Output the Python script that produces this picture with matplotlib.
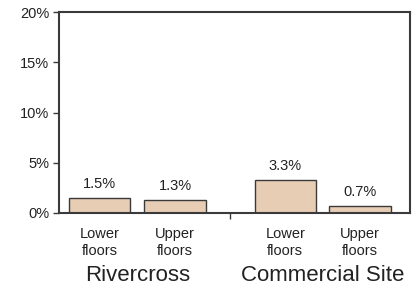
import matplotlib
matplotlib.use("Agg")
import matplotlib.pyplot as plt

categories = ["Lower\nfloors", "Upper\nfloors", "Lower\nfloors", "Upper\nfloors"]
groups = ["Rivercross", "Commercial Site"]
values = [1.5, 1.3, 3.3, 0.7]
value_labels = ["1.5%", "1.3%", "3.3%", "0.7%"]
yticks = [0, 5, 10, 15, 20]
ytick_labels = ["0%", "5%", "10%", "15%", "20%"]

plt.rcParams['font.family'] = ['Liberation Sans', 'DejaVu Sans']

fig = plt.figure(figsize=(4.14, 2.87), dpi=100)
ax = fig.add_axes([0.1425, 0.258, 0.8475, 0.700])

xpos = [0, 1, 2.46, 3.45]
ax.bar(xpos, values, width=0.81, color="#E8CDB5", edgecolor="#3a3a3a", linewidth=1.0)
for x, v, lab in zip(xpos, values, value_labels):
    ax.text(x, v + 0.7, lab, ha="center", va="bottom", fontsize=10.5, color="#222222")

ax.set_xlim(-0.536, 4.11)
ax.set_ylim(0, 20)
ax.set_yticks(yticks)
ax.set_yticklabels(ytick_labels, fontsize=10.5, color="#222222")
ax.set_xticks([1.73])
ax.set_xticklabels([""])
ax.tick_params(axis="both", direction="out", length=4, width=1, color="#3a3a3a", pad=3)

for s in ax.spines.values():
    s.set_color("#3a3a3a")
    s.set_linewidth(1.5)

for x, c in zip(xpos, categories):
    ax.text(x, -1.4, c, ha="center", va="top", fontsize=10.5, color="#222222",
            linespacing=1.25, transform=ax.transData)
group_centers = [(xpos[0] + xpos[1]) / 2, (xpos[2] + xpos[3]) / 2]
for gx, g in zip(group_centers, groups):
    ax.text(gx, -5.15, g, ha="center", va="top", fontsize=16, color="#222222")

fig.savefig("out.png", dpi=100)
